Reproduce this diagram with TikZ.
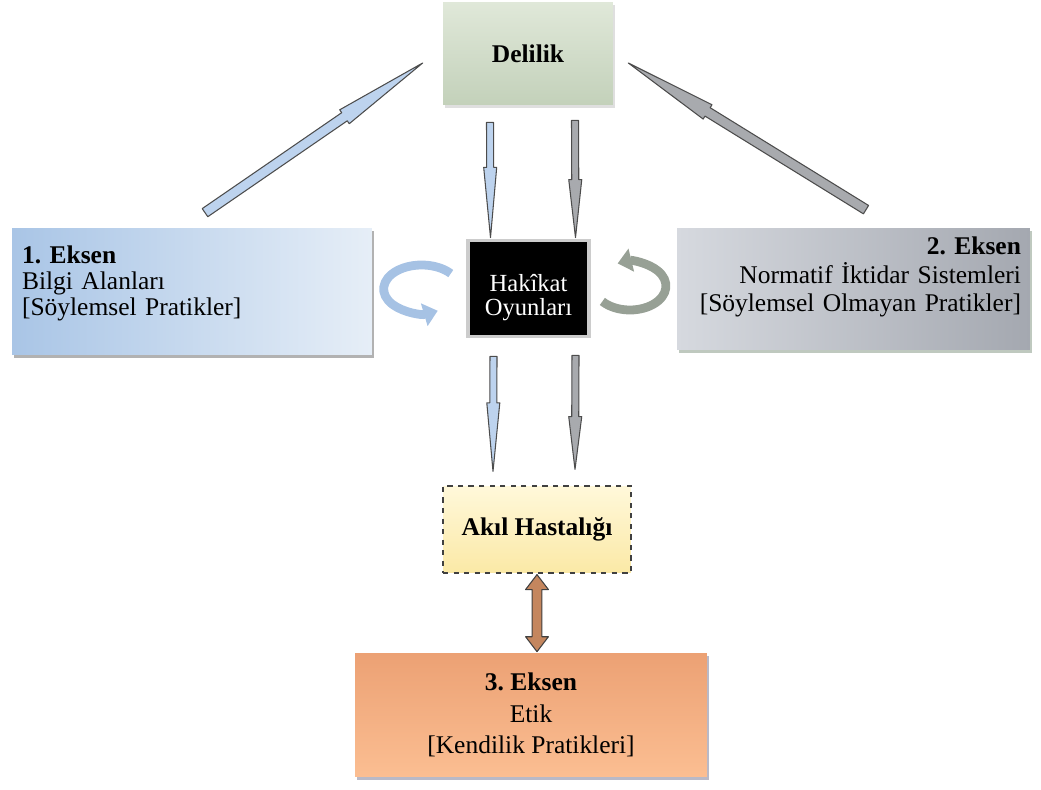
\documentclass[tikz,border=0pt]{standalone}
\usepackage{fontspec}
\setmainfont{Liberation Serif}
\usetikzlibrary{calc,shadows,arrows.meta}

\definecolor{delust}{HTML}{E0E8D9}
\definecolor{delalt}{HTML}{C3D1BA}
\definecolor{birsol}{HTML}{A9C5E6}
\definecolor{birsag}{HTML}{E6EEF7}
\definecolor{ikisol}{HTML}{D6D9DF}
\definecolor{ikisag}{HTML}{A4A8B0}
\definecolor{akilust}{HTML}{FFF8DA}
\definecolor{akilalt}{HTML}{FBE9A6}
\definecolor{ucust}{HTML}{ECA174}
\definecolor{ucalt}{HTML}{FBBE92}
\definecolor{okmavi}{HTML}{BDD3EE}
\definecolor{okgri}{HTML}{A8AAAE}
\definecolor{okkahve}{HTML}{C4865E}
\definecolor{halkamavi}{HTML}{A6C2E4}
\definecolor{halkagri}{HTML}{97A095}

\tikzset{
	kutu/.style={inner sep=0pt, align=center},
	yazi/.style={inner sep=0pt},
	golge/.style={drop shadow={shadow xshift=1.2pt, shadow yshift=-1.6pt, fill=#1}},
	halka/.style={line width=5pt, -{Triangle[length=8pt, width=13pt]}}
}

% ok: kuyruk, uc, renk, govde, bas genisligi, bas uzunlugu
\newcommand{\mizrak}[6]{%
	\filldraw[fill=#3, draw=black!70, line width=0.6pt, line join=round]
		($(#1)!#4!90:(#2)$)
		-- ($(#2)!#6!(#1)!#4!-90:(#1)$)
		-- ($(#2)!#6!(#1)!#5!-90:(#1)$)
		-- (#2)
		-- ($(#2)!#6!(#1)!#5!90:(#1)$)
		-- ($(#2)!#6!(#1)!#4!90:(#1)$)
		-- ($(#1)!#4!-90:(#2)$) -- cycle;
}
\newcommand{\ciftmizrak}[6]{%
	\filldraw[fill=#3, draw=black!75, line width=0.6pt, line join=round]
		(#1) -- ($(#1)!#6!(#2)!#5!90:(#2)$) -- ($(#1)!#6!(#2)!#4!90:(#2)$)
		-- ($(#2)!#6!(#1)!#4!-90:(#1)$) -- ($(#2)!#6!(#1)!#5!-90:(#1)$) -- (#2)
		-- ($(#2)!#6!(#1)!#5!90:(#1)$) -- ($(#2)!#6!(#1)!#4!90:(#1)$)
		-- ($(#1)!#6!(#2)!#4!-90:(#2)$) -- ($(#1)!#6!(#2)!#5!-90:(#2)$) -- cycle;
}

\begin{document}
\frenchspacing
\begin{tikzpicture}[x=0.02cm, y=0.02cm, font=\fontsize{14.5}{15}\selectfont]
	\useasboundingbox (0,0) rectangle (1041,789);
	% kutular
	\node[kutu, golge=black!25, top color=delust, bottom color=delalt,
		minimum width=3.4cm, minimum height=2.06cm] (delilik) at (528,735.5) {\textbf{Delilik}};
	\node[kutu, golge=black!60, left color=birsol, right color=birsag,
		minimum width=7.2cm, minimum height=2.54cm] (eksen1) at (192,497.5) {};
	\node[yazi, align=left, text width=6.8cm] (eksen1yazi) at ($(eksen1)+(0,8)$)
		{\textbf{1. Eksen}\\ Bilgi Alanları\\ {[Söylemsel Pratikler]}};
	\node[kutu, golge=green!15!black!50, left color=ikisol, right color=ikisag,
		minimum width=7.06cm, minimum height=2.44cm] (eksen2) at (853.5,500) {};
	\node[yazi, align=right, text width=6.7cm, font=\fontsize{14.5}{16}\selectfont]
		(eksen2yazi) at ($(eksen2)+(0,12)$)
		{\textbf{2. Eksen}\\ Normatif İktidar Sistemleri\\ {[Söylemsel Olmayan Pratikler]}};
	\node[kutu, fill=black,
		drop shadow={shadow xshift=0pt, shadow yshift=0pt, shadow scale=1.07, fill=black!40},
		minimum width=2.34cm, minimum height=1.86cm] (hakikat) at (528.5,500.5) {};
	\node[yazi, align=center, text=white, font=\fontsize{14}{14}\selectfont]
		(hakikatyazi) at ($(hakikat)+(0,-9)$) {Hakîkat\\ Oyunları};
	\node[kutu, top color=akilust, bottom color=akilalt, draw=black!75, dashed, line width=0.7pt,
		minimum width=3.76cm, minimum height=1.74cm] (akil) at (537,259.5) {\textbf{Akıl Hastalığı}};
	\node[kutu, golge=blue!20!black!55, top color=ucust, bottom color=ucalt,
		font=\fontsize{14.5}{18}\selectfont,
		minimum width=7.04cm, minimum height=2.48cm] (eksen3) at (531,74)
		{\textbf{3. Eksen}\\ Etik\\ {[Kendilik Pratikleri]}};
	% dikey oklar
	\coordinate (d1) at ($(delilik.south)+(-38,-17)$);
	\coordinate (h1) at ($(hakikat.north)+(-38,4)$);
	\mizrak{d1}{h1}{okmavi}{2pt}{3.7pt}{40pt}
	\coordinate (d2) at ($(delilik.south)+(47,-15)$);
	\coordinate (h2) at ($(hakikat.north)+(47,4)$);
	\mizrak{d2}{h2}{okgri}{2pt}{3.7pt}{33pt}
	\coordinate (h3) at ($(hakikat.south)+(-35,-21)$);
	\coordinate (a1) at ($(akil.north)+(-44,14)$);
	\mizrak{h3}{a1}{okmavi}{2pt}{3.7pt}{39pt}
	\coordinate (h4) at ($(hakikat.south)+(47,-20)$);
	\coordinate (a2) at ($(akil.north)+(38,16)$);
	\mizrak{h4}{a2}{okgri}{2pt}{3.7pt}{30pt}
	% capraz oklar
	\coordinate (e1) at ($(eksen1.north)+(13,15)$);
	\coordinate (d3) at ($(delilik.west)+(-20,-9.5)$);
	\mizrak{e1}{d3}{okmavi}{2.8pt}{4.8pt}{54pt}
	\coordinate (e2) at ($(eksen2.north)+(12.5,18)$);
	\coordinate (d4) at ($(delilik.east)+(15,-9.5)$);
	\mizrak{e2}{d4}{okgri}{2.8pt}{4.8pt}{53pt}
	% cift yonlu ok
	\coordinate (a3) at ($(akil.south)+(0,-1)$);
	\coordinate (e3) at ($(akil.south |- eksen3.north)+(0,1)$);
	\ciftmizrak{a3}{e3}{okkahve}{2.8pt}{6.5pt}{8.5pt}
	% halkalar
	\coordinate (hl) at ($(hakikat.west)+(-48,-0.5)$);
	\coordinate (hr) at ($(hakikat.east)+(42.6,2.5)$);
	\draw[halka, draw=halkamavi] ([shift={(40:0.76cm and 0.48cm)}]hl)
		arc[start angle=40, end angle=295, x radius=0.76cm, y radius=0.48cm];
	\draw[halka, draw=halkagri] ([shift={(220:0.72cm and 0.48cm)}]hr)
		arc[start angle=220, end angle=470, x radius=0.72cm, y radius=0.48cm];
\end{tikzpicture}
\end{document}
